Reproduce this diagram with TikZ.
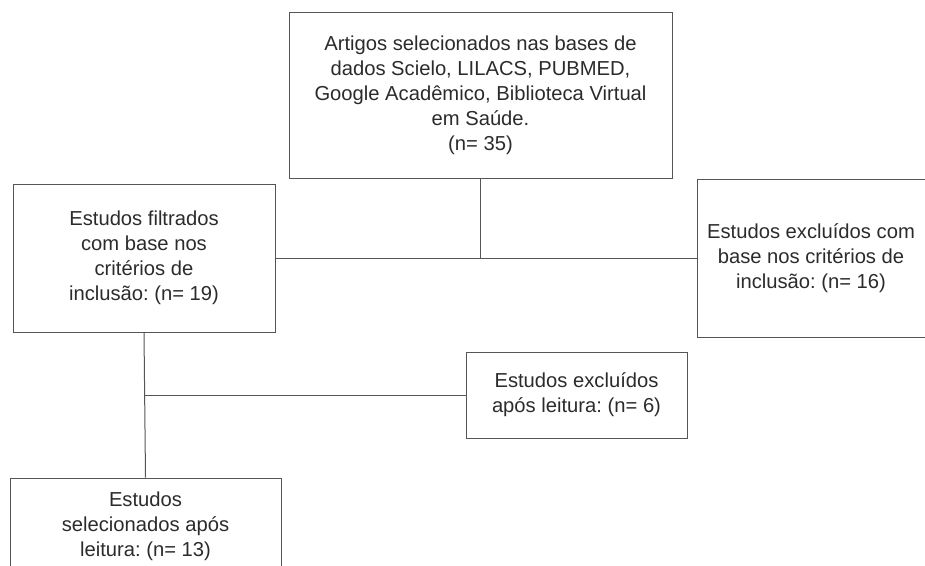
\documentclass[tikz,border=0pt]{standalone}
\usepackage{fontspec}
\setmainfont{Liberation Sans}
\usetikzlibrary{positioning}
\frenchspacing

\definecolor{linegray}{HTML}{555555}
\definecolor{textgray}{HTML}{2B2B2B}

\tikzset{
  fbox/.style={draw=linegray, line width=1pt, align=center, text=textgray,
    inner sep=2pt, font=\fontsize{20.2}{25}\selectfont},
  link/.style={draw=linegray, line width=1pt}
}

\begin{document}
\begin{tikzpicture}[x=1pt, y=-1pt]
\useasboundingbox (0,0) rectangle (925,565);
\clip (0,0) rectangle (925,565);

\node[fbox, minimum width=383pt, minimum height=166pt] (artigos) at (480.5,95)
  {Artigos selecionados nas bases de\\dados Scielo, LILACS, PUBMED,\\Google Acadêmico, Biblioteca Virtual\\em Saúde.\\(n= 35)};
\node[fbox, minimum width=262pt, minimum height=148pt] (filtrados) at (144,258)
  {Estudos filtrados\\com base nos\\critérios de\\inclusão: (n= 19)};
\node[fbox, minimum width=228pt, minimum height=158pt] (excl1) at (811,258)
  {Estudos excluídos com\\base nos critérios de\\inclusão: (n= 16)};
\node[fbox, minimum width=221pt, minimum height=86pt] (excl2) at (576.5,395)
  {Estudos excluídos\\após leitura: (n= 6)};
\node[fbox, minimum width=271pt, minimum height=96pt] (selec) at (145.5,526)
  {Estudos\\selecionados após\\leitura: (n= 13)};

% ligacoes
\draw[link] (filtrados.east) -- (excl1.west);
\draw[link] (artigos.south) -- (artigos.south |- filtrados.east);
\draw[link] (filtrados.south) -- (selec.north);
\draw[link] (filtrados.south |- excl2.west) -- (excl2.west);
\end{tikzpicture}
\end{document}
